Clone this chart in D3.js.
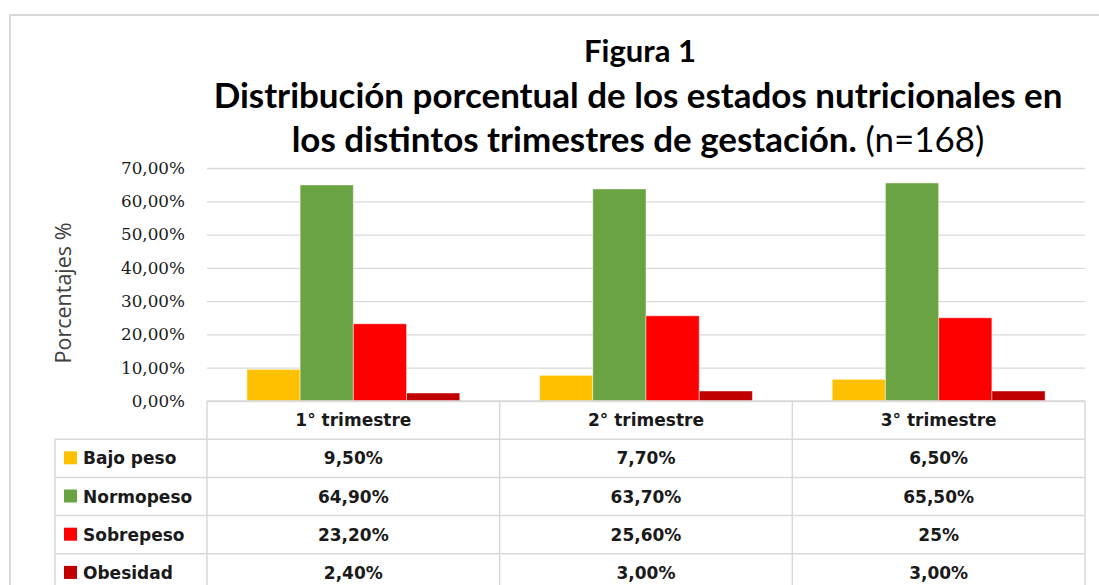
<!DOCTYPE html>
<html>
<head lang="es">
    <meta charset="UTF-8">
    <script src="https://cdn.jsdelivr.net/npm/d3@7"></script>
    <style>
        body { margin: 0; background: #fff; }
        svg { display: block; }
    </style>
    <title>Figura 1</title>
</head>
<body>
<div id="chart"></div>

<script>
    // data
    var categories = ["1° trimestre", "2° trimestre", "3° trimestre"];
    var seriesNames = ["Bajo peso", "Normopeso", "Sobrepeso", "Obesidad"];
    var bajoPeso  = [9.5, 7.7, 6.5];
    var normopeso = [64.9, 63.7, 65.5];
    var sobrepeso = [23.2, 25.6, 25.0];
    var obesidad  = [2.4, 3.0, 3.0];
    // table texts as printed in the figure
    var bajoPesoLbl  = ["9,50%", "7,70%", "6,50%"];
    var normopesoLbl = ["64,90%", "63,70%", "65,50%"];
    var sobrepesoLbl = ["23,20%", "25,60%", "25%"];
    var obesidadLbl  = ["2,40%", "3,00%", "3,00%"];
    var yTicks = [0, 10, 20, 30, 40, 50, 60, 70];

    var colors = ["#ffc000", "#6aa442", "#ff0000", "#c00000"];
    var values = [bajoPeso, normopeso, sobrepeso, obesidad];
    var labels = [bajoPesoLbl, normopesoLbl, sobrepesoLbl, obesidadLbl];

    var width = 1099, height = 585;
    var plot = {left: 207, right: 1085, top: 168, bottom: 401};
    var rowH = 38.2;
    var legendLeft = 55;

    var svg = d3.select("#chart").append("svg")
            .attr("width", width)
            .attr("height", height);

    svg.append("rect").attr("width", width).attr("height", height).attr("fill", "#fff");

    // outer chart border (cut off at right/bottom)
    svg.append("rect")
            .attr("x", 10).attr("y", 15)
            .attr("width", 1200).attr("height", 700)
            .attr("fill", "none")
            .attr("stroke", "#d9d9d9")
            .attr("stroke-width", 2);

    var x0 = d3.scaleBand()
            .domain(categories)
            .range([plot.left, plot.right])
            .padding(0);

    var x1 = d3.scaleBand()
            .domain(seriesNames)
            .range([0, x0.bandwidth()])
            .paddingInner(0)
            .paddingOuter(0.75);

    var y = d3.scaleLinear()
            .domain([0, 70])
            .range([plot.bottom, plot.top]);

    //gridlines
    svg.append("g")
            .attr("class", "grid")
            .attr("transform", "translate(" + plot.left + ",0)")
            .call(d3.axisLeft(y).tickValues(yTicks).tickSize(-(plot.right - plot.left)).tickFormat(""))
            .call(function(g) {
                g.select(".domain").remove();
                g.selectAll("line").attr("stroke", "#d9d9d9").attr("stroke-width", 1.3);
            });

    // y tick labels
    svg.append("g")
            .attr("transform", "translate(" + (plot.left - 22) + ",0)")
            .call(d3.axisLeft(y).tickValues(yTicks).tickSize(0).tickPadding(0)
                    .tickFormat(function(d) { return d.toFixed(2).replace(".", ",") + "%"; }))
            .call(function(g) {
                g.select(".domain").remove();
                g.selectAll("text")
                        .attr("font-family", "DejaVu Serif")
                        .attr("font-size", 16.8)
                        .attr("fill", "#1a1a1a");
            });

    // y title
    svg.append("text")
            .attr("transform", "translate(71," + 293 + ") rotate(-90)")
            .attr("text-anchor", "middle")
            .attr("font-family", "Open Sans")
            .attr("font-size", 21.5)
            .attr("fill", "#404040")
            .text("Porcentajes %");

    // bars
    var groups = svg.append("g").selectAll("g")
            .data(categories)
            .enter().append("g")
            .attr("transform", function(d) { return "translate(" + x0(d) + ",0)"; });

    groups.selectAll("rect")
            .data(function(d, i) {
                return seriesNames.map(function(s, k) { return {key: s, value: values[k][i], color: colors[k]}; });
            })
            .enter().append("rect")
            .attr("x", function(d) { return x1(d.key); })
            .attr("y", function(d) { return y(d.value); })
            .attr("width", x1.bandwidth())
            .attr("height", function(d) { return y(0) - y(d.value); })
            .attr("fill", function(d) { return d.color; })
            .attr("stroke", "rgba(255,255,255,0.45)")
            .attr("stroke-width", 1);

    // data table
    var tbl = svg.append("g").attr("class", "table");
    var lineColor = "#d9d9d9";
    var nRows = seriesNames.length;
    var tableBottom = plot.bottom + rowH * (nRows + 1);

    // horizontal lines
    tbl.append("line")
            .attr("x1", plot.left).attr("x2", plot.right)
            .attr("y1", plot.bottom).attr("y2", plot.bottom)
            .attr("stroke", lineColor).attr("stroke-width", 1.5);
    d3.range(1, nRows + 1).forEach(function(r) {
        tbl.append("line")
                .attr("x1", legendLeft).attr("x2", plot.right)
                .attr("y1", plot.bottom + r * rowH).attr("y2", plot.bottom + r * rowH)
                .attr("stroke", lineColor).attr("stroke-width", 1.5);
    });
    // vertical lines
    tbl.append("line")
            .attr("x1", legendLeft).attr("x2", legendLeft)
            .attr("y1", plot.bottom + rowH).attr("y2", tableBottom)
            .attr("stroke", lineColor).attr("stroke-width", 1.5);
    categories.concat([null]).forEach(function(c) {
        var xx = c === null ? plot.right : x0(c);
        tbl.append("line")
                .attr("x1", xx).attr("x2", xx)
                .attr("y1", plot.bottom).attr("y2", tableBottom)
                .attr("stroke", lineColor).attr("stroke-width", 1.5);
    });

    var fontT = "DejaVu Sans";
    // header row
    tbl.selectAll("text.head")
            .data(categories)
            .enter().append("text")
            .attr("class", "head")
            .attr("x", function(d) { return x0(d) + x0.bandwidth() / 2; })
            .attr("y", plot.bottom + rowH / 2 + 6)
            .attr("text-anchor", "middle")
            .attr("font-family", fontT)
            .attr("font-weight", "bold")
            .attr("font-size", 17)
            .attr("fill", "#1a1a1a")
            .text(function(d) { return d; });

    seriesNames.forEach(function(s, k) {
        var cy = plot.bottom + rowH * (k + 1) + rowH / 2;
        tbl.append("rect")
                .attr("x", 64).attr("y", cy - 7)
                .attr("width", 13).attr("height", 13)
                .attr("fill", colors[k]);
        tbl.append("text")
                .attr("x", 83).attr("y", cy + 6)
                .attr("font-family", fontT)
                .attr("font-weight", "bold")
                .attr("font-size", 17)
                .attr("fill", "#1a1a1a")
                .text(s);
        tbl.selectAll("text.v" + k)
                .data(labels[k])
                .enter().append("text")
                .attr("class", "v" + k)
                .attr("x", function(d, i) { return x0(categories[i]) + x0.bandwidth() / 2; })
                .attr("y", cy + 6)
                .attr("text-anchor", "middle")
                .attr("font-family", fontT)
                .attr("font-weight", "bold")
                .attr("font-size", 17)
                .attr("fill", "#1a1a1a")
                .text(function(d) { return d; });
    });

    // title
    var titleX = 638;
    var title = svg.append("g")
            .attr("font-family", "Lato")
            .attr("font-weight", "bold")
            .attr("fill", "#000")
            .attr("text-anchor", "middle");

    var t1 = title.append("text").attr("x", titleX + 2).attr("y", 62).text("Figura 1");
    var t2 = title.append("text").attr("x", titleX).attr("y", 108)
            .text("Distribución porcentual de los estados nutricionales en");
    var t3 = title.append("text").attr("x", titleX).attr("y", 152);
    t3.append("tspan").text("los distintos trimestres de gestación. ");
    t3.append("tspan").attr("font-weight", "normal").text("(n=168)");

    // size the title so the middle line spans the same width as in the figure
    title.attr("font-size", 30);
    var w = t2.node().getComputedTextLength();
    var fs = 30 * 849 / w;
    title.attr("font-size", fs);
    var w1 = t1.node().getComputedTextLength();
    t1.attr("font-size", fs * 112 / w1);

</script>
</body>
</html>
